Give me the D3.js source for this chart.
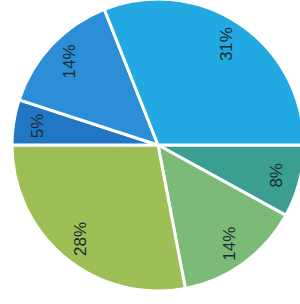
<!DOCTYPE html>
<html>
<head>
<meta charset="utf-8">
<script src="https://cdn.jsdelivr.net/npm/d3@7"></script>
<style>
  html, body { margin: 0; padding: 0; background: #fff; }
  svg { display: block; }
</style>
</head>
<body>
<div id="chart"></div>
<script>
// slices, clockwise starting at 3 o'clock
const labels = ["8%", "14%", "28%", "5%", "14%", "31%"];
const values = [8, 14, 28, 5, 14, 31];
const colors = ["#3a9f90", "#7cba78", "#9dbf56", "#2277c4", "#2b8ed7", "#22a9e1"];

const width = 300;
const height = 304;
const cx = 158, cy = 145;
const radius = 146;
const labelRadius = 122;

const svg = d3.select("#chart")
    .append("svg")
    .attr("width", width)
    .attr("height", height);

const g = svg.append("g")
    .attr("transform", `translate(${cx},${cy})`);

const pie = d3.pie()
    .sort(null)
    .value(d => d)
    .startAngle(Math.PI / 2)
    .endAngle(Math.PI / 2 + 2 * Math.PI);

const arcs = pie(values);

const arc = d3.arc().innerRadius(0).outerRadius(radius);
const labelArc = d3.arc().innerRadius(labelRadius).outerRadius(labelRadius);

g.selectAll("path")
    .data(arcs)
    .join("path")
    .attr("d", arc)
    .attr("fill", (d, i) => colors[i])
    .attr("stroke", "#fff")
    .attr("stroke-width", 3)
    .attr("stroke-linejoin", "round");

g.selectAll("text")
    .data(arcs)
    .join("text")
    .attr("transform", d => {
        const [x, y] = labelArc.centroid(d);
        return `translate(${x},${y}) rotate(-90)`;
    })
    .attr("text-anchor", "middle")
    .attr("dominant-baseline", "central")
    .style("font-family", "'Liberation Sans', Arial, sans-serif")
    .style("font-size", "17px")
    .attr("fill", "#1e2a30")
    .text((d, i) => labels[i]);
</script>
</body>
</html>
